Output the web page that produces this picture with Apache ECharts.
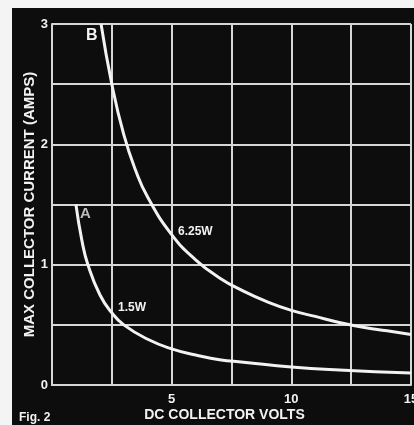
<!DOCTYPE html>
<html>
<head>
<meta charset="utf-8">
<script src="https://cdn.jsdelivr.net/npm/echarts@6/dist/echarts.min.js"></script>
<style>
  body { margin: 0; background: #f4f4f4; }
  #chart { position: absolute; left: 12px; top: 8px; width: 402px; height: 417px; }
</style>
</head>
<body>
<div id="chart"></div>
<script>
// curve B (6.25 W)
let voltsB = [2.05, 2.5, 3, 3.5, 4, 5, 6, 7, 8, 9, 10, 11, 12, 13, 14, 15];
let ampsB = [3.0, 2.5, 2.08, 1.78, 1.56, 1.25, 1.04, 0.89, 0.78, 0.69, 0.62, 0.57, 0.52, 0.48, 0.45, 0.42];
// curve A (1.5 W)
let voltsA = [1.0, 1.25, 1.5, 2, 2.5, 3, 4, 5, 6, 7, 8, 10, 12, 15];
let ampsA = [1.5, 1.2, 1.0, 0.75, 0.6, 0.5, 0.38, 0.3, 0.25, 0.21, 0.19, 0.15, 0.125, 0.1];

let xTickLabels = ['5', '10', '15'];
let yTickLabels = ['0', '1', '2', '3'];

let pair = (xs, ys) => xs.map((v, i) => [v, ys[i]]);

let chart = echarts.init(document.getElementById('chart'));
let white = '#f2f2f2';
let gridColor = '#d6d6d6';
let font = 'Liberation Sans';

option = {
    backgroundColor: '#0d0d0d',
    animation: false,
    grid: {
        left: 40,
        top: 16,
        right: 3,
        bottom: 40,
        outerBoundsMode: 'none'
    },
    xAxis: {
        type: 'value',
        min: 0,
        max: 15,
        interval: 2.5,
        name: 'DC COLLECTOR VOLTS',
        nameLocation: 'middle',
        nameGap: 23,
        nameMoveOverlap: false,
        nameTextStyle: { color: white, fontSize: 14, fontWeight: 'bold', fontFamily: font, padding: [0, 14, 0, 0] },
        axisLine: { show: true, lineStyle: { color: gridColor, width: 2 } },
        axisTick: { show: false },
        splitLine: { show: true, lineStyle: { color: gridColor, width: 2 } },
        axisLabel: {
            color: white,
            fontSize: 13,
            fontWeight: 'bold',
            fontFamily: font,
            margin: 8,
            formatter: v => xTickLabels.indexOf(String(v)) >= 0 ? String(v) : ''
        }
    },
    yAxis: {
        type: 'value',
        min: 0,
        max: 3,
        interval: 0.5,
        name: 'MAX COLLECTOR CURRENT (AMPS)',
        nameLocation: 'middle',
        nameGap: 15,
        nameMoveOverlap: false,
        nameTextStyle: { color: white, fontSize: 15, fontWeight: 'bold', fontFamily: font },
        axisLine: { show: true, lineStyle: { color: gridColor, width: 2 } },
        axisTick: { show: false },
        splitLine: { show: true, lineStyle: { color: gridColor, width: 2 } },
        axisLabel: {
            color: white,
            fontSize: 13,
            fontWeight: 'bold',
            fontFamily: font,
            margin: 4,
            formatter: v => yTickLabels.indexOf(String(v)) >= 0 ? String(v) : ''
        }
    },
    graphic: [
        { type: 'text', left: 74, top: 20, style: { text: 'B', fill: white, font: 'bold 16px ' + font } },
        { type: 'text', left: 68, top: 198, style: { text: 'A', fill: '#bdbdbd', font: 'bold 15px ' + font } },
        { type: 'text', left: 166, top: 218, style: { text: '6.25W', fill: white, font: 'bold 12px ' + font } },
        { type: 'text', left: 106, top: 294, style: { text: '1.5W', fill: white, font: 'bold 12px ' + font } },
        { type: 'text', left: 7, top: 404, style: { text: 'Fig. 2', fill: white, font: 'bold 12px ' + font } }
    ],
    series: [{
        type: 'line',
        data: pair(voltsB, ampsB),
        smooth: true,
        showSymbol: false,
        lineStyle: { color: white, width: 3 }
    }, {
        type: 'line',
        data: pair(voltsA, ampsA),
        smooth: true,
        showSymbol: false,
        lineStyle: { color: white, width: 3 }
    }]
};
chart.setOption(option);
</script>
</body>
</html>
